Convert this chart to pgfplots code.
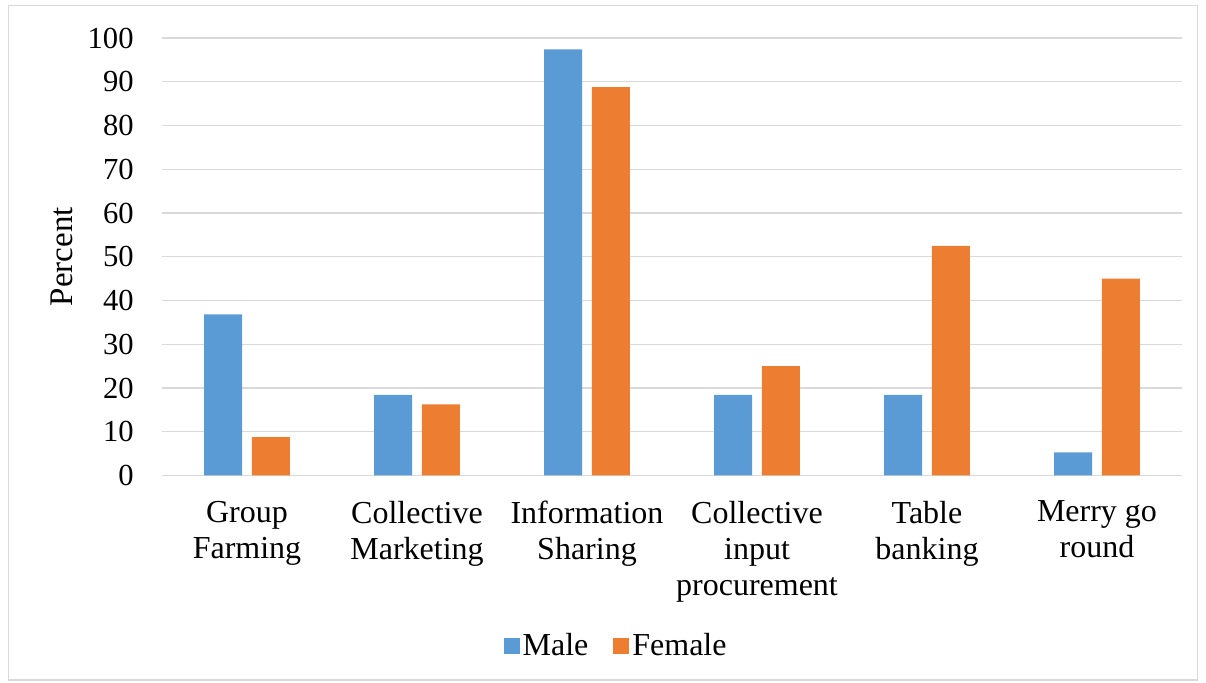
\documentclass[border=0pt]{standalone}
\usepackage{fontspec}
\setmainfont{Liberation Serif}
\usepackage{pgfplots}
\pgfplotsset{compat=1.18}
\definecolor{maleblue}{HTML}{5B9BD5}
\definecolor{femaleorange}{HTML}{ED7D31}
\definecolor{gridgray}{HTML}{D9D9D9}
\begin{document}
\begin{tikzpicture}[x=0.5pt,y=0.5pt]
% page extent and outer frame
\path (0,0) rectangle (1206,683);
\draw[gridgray, line width=0.7pt] (8.5,3) rectangle (1197.5,677.5);
\begin{axis}[
  at={(81pt,103.75pt)}, anchor=south west,
  scale only axis,
  width=510pt, height=218.75pt,
  xmin=-0.5, xmax=5.5,
  ymin=0, ymax=100,
  ytick={0,10,...,100},
  xtick={0,1,2,3,4,5},
  xticklabels={{Group\\Farming},{Collective\\Marketing},{Information\\Sharing},{Collective\\input\\procurement},{Table\\banking},{Merry go\\round}},
  axis line style={draw=none},
  major tick length=0pt,
  ymajorgrids,
  grid style={gridgray, line width=0.65pt},
  /pgf/number format/assume math mode=true,
  yticklabel style={anchor=east, inner sep=0pt, xshift=-14pt, font=\fontsize{15.3}{18}\selectfont},
  xticklabel style={align=center, anchor=north, inner sep=0pt, yshift=-12.5pt, font=\fontsize{16}{18}\selectfont},
  ylabel={Percent},
  ylabel style={at={(axis description cs:-0.0979,0.5)}, anchor=center, font=\fontsize{16.5}{18}\selectfont},
  ybar,
  bar width=0.2235,
  legend columns=2,
  legend style={at={(0.4457,-0.3897)}, anchor=center, draw=none,
    font=\fontsize{16}{18}\selectfont,
    /tikz/every even column/.append style={column sep=11pt},
    nodes={inner sep=1.5pt, xshift=1.5pt}},
  legend image code/.code={\fill[#1] (0pt,-4pt) rectangle (8pt,4pt);},
]
\addplot[fill=maleblue, draw=none, bar shift=-0.141] coordinates {
  (0,36.8) (1,18.4) (2,97.4) (3,18.4) (4,18.4) (5,5.3)};
\addplot[fill=femaleorange, draw=none, bar shift=0.141] coordinates {
  (0,8.75) (1,16.25) (2,88.75) (3,25.0) (4,52.5) (5,45.0)};
\legend{Male, Female}
\end{axis}
\end{tikzpicture}
\end{document}
